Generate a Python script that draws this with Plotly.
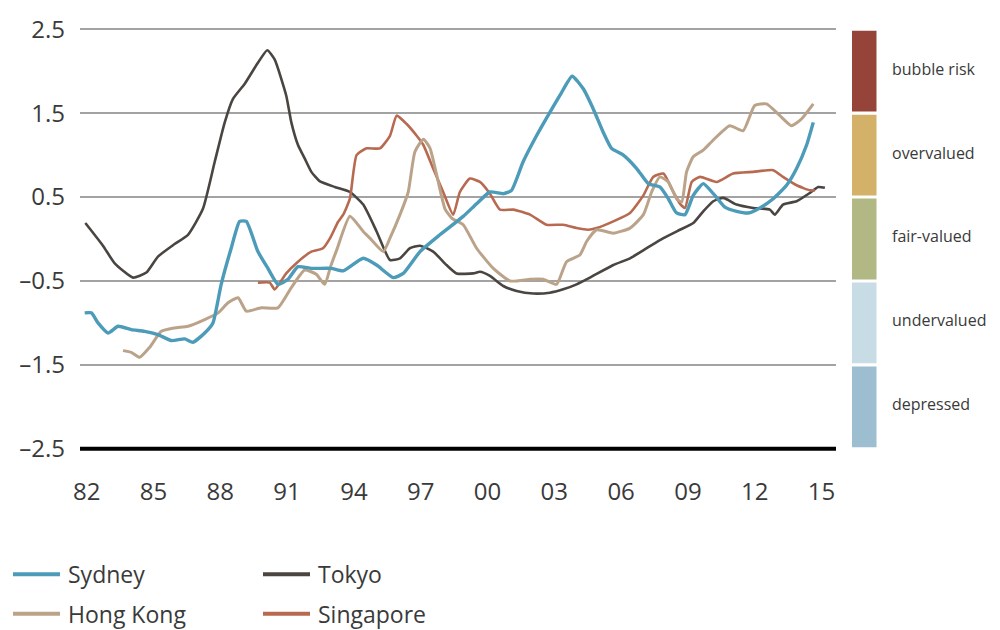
import plotly.graph_objects as go

# ---- series data (year, valuation index) ----
sydney_year = [1981.91, 1982.21, 1982.51, 1982.96, 1983.41, 1984.0, 1984.6, 1985.2, 1985.8, 1986.4,
               1986.77, 1987.3, 1987.67, 1988.04, 1988.49, 1988.87, 1989.17, 1989.69, 1990.14, 1990.59,
               1991.04, 1991.49, 1992.09, 1992.98, 1993.52, 1994.42, 1995.02, 1995.77, 1996.22, 1996.97,
               1997.86, 1998.91, 1999.51, 2000.11, 2000.71, 2001.08, 2001.6, 2002.2, 2002.8, 2003.25,
               2003.8, 2004.3, 2004.75, 2005.2, 2005.57, 2006.1, 2006.7, 2007.22, 2007.74, 2008.12,
               2008.49, 2008.87, 2009.24, 2009.69, 2010.14, 2010.66, 2011.19, 2011.71, 2012.23, 2012.83,
               2013.43, 2013.88, 2014.33, 2014.63]
sydney_val = [-0.88, -0.88, -1.0, -1.12, -1.04, -1.08, -1.10, -1.14, -1.21, -1.19,
              -1.23, -1.12, -1.0, -0.54, -0.11, 0.21, 0.21, -0.15, -0.35, -0.54,
              -0.48, -0.33, -0.35, -0.35, -0.38, -0.23, -0.31, -0.46, -0.41, -0.15,
              0.05, 0.27, 0.42, 0.56, 0.54, 0.58, 0.92, 1.23, 1.51, 1.71,
              1.94, 1.79, 1.55, 1.27, 1.08, 1.0, 0.84, 0.66, 0.62, 0.48,
              0.31, 0.29, 0.52, 0.66, 0.54, 0.38, 0.33, 0.31, 0.37, 0.48,
              0.64, 0.84, 1.12, 1.39]

tokyo_year = [1981.94, 1982.73, 1983.26, 1984.08, 1984.68, 1985.2, 1985.95, 1986.55, 1987.22, 1987.75,
              1988.2, 1988.57, 1989.1, 1989.69, 1990.11, 1990.44, 1990.96, 1991.19, 1991.49, 1991.79,
              1992.09, 1992.46, 1993.14, 1993.82, 1994.42, 1995.02, 1995.62, 1996.07, 1996.52, 1996.97,
              1997.56, 1998.16, 1998.61, 1999.36, 1999.66, 2000.11, 2000.71, 2001.31, 2002.05, 2002.8,
              2003.4, 2004.0, 2004.6, 2005.65, 2006.4, 2007.15, 2007.9, 2008.64, 2009.24, 2009.69,
              2010.14, 2010.59, 2011.19, 2011.93, 2012.68, 2012.9, 2013.27, 2013.88, 2014.48, 2014.85,
              2015.15]
tokyo_val = [0.19, -0.08, -0.29, -0.46, -0.40, -0.21, -0.06, 0.05, 0.36, 0.92,
             1.39, 1.67, 1.85, 2.10, 2.25, 2.14, 1.71, 1.39, 1.12, 0.96,
             0.80, 0.69, 0.62, 0.56, 0.41, 0.09, -0.25, -0.23, -0.11, -0.08,
             -0.15, -0.31, -0.41, -0.41, -0.39, -0.44, -0.56, -0.62, -0.65, -0.64,
             -0.60, -0.54, -0.46, -0.31, -0.23, -0.11, 0.01, 0.11, 0.19, 0.33,
             0.45, 0.49, 0.41, 0.37, 0.35, 0.29, 0.41, 0.45, 0.55, 0.62,
             0.61]

hongkong_year = [1983.63, 1984.0, 1984.38, 1984.83, 1985.35, 1985.95, 1986.55, 1987.3, 1987.9, 1988.35,
                 1988.8, 1989.17, 1989.84, 1990.59, 1991.19, 1991.79, 1992.31, 1992.69, 1992.95, 1993.23,
                 1993.82, 1994.42, 1994.72, 1995.32, 1995.62, 1996.07, 1996.44, 1996.74, 1997.12, 1997.42,
                 1997.72, 1998.09, 1998.39, 1998.91, 1999.51, 2000.26, 2001.01, 2001.91, 2002.5, 2003.1,
                 2003.55, 2004.15, 2004.45, 2004.9, 2005.65, 2006.4, 2007.0, 2007.37, 2007.74, 2008.12,
                 2008.49, 2008.72, 2008.94, 2009.24, 2009.69, 2010.14, 2010.88, 2011.48, 2012.0, 2012.53,
                 2013.13, 2013.65, 2014.1, 2014.63]
hongkong_val = [-1.33, -1.35, -1.41, -1.29, -1.10, -1.06, -1.04, -0.96, -0.88, -0.76,
                -0.70, -0.86, -0.82, -0.82, -0.58, -0.37, -0.42, -0.54, -0.33, -0.13,
                0.27, 0.09, 0.01, -0.15, 0.01, 0.29, 0.56, 1.04, 1.19, 1.08,
                0.76, 0.36, 0.25, 0.17, -0.11, -0.35, -0.50, -0.48, -0.48, -0.54,
                -0.27, -0.19, -0.03, 0.11, 0.07, 0.13, 0.29, 0.56, 0.74, 0.68,
                0.48, 0.44, 0.80, 0.98, 1.06, 1.18, 1.35, 1.29, 1.59, 1.61,
                1.47, 1.35, 1.43, 1.61]

singapore_year = [1989.69, 1990.22, 1990.44, 1990.96, 1991.49, 1992.09, 1992.61, 1992.95, 1993.28, 1993.52,
                  1993.82, 1994.12, 1994.57, 1995.17, 1995.62, 1995.92, 1996.37, 1996.82, 1997.12, 1997.56,
                  1998.01, 1998.46, 1998.76, 1999.21, 1999.66, 2000.11, 2000.56, 2001.16, 2001.91, 2002.65,
                  2003.4, 2004.0, 2004.52, 2004.9, 2005.65, 2006.4, 2007.0, 2007.44, 2007.9, 2008.27,
                  2008.64, 2008.87, 2009.17, 2009.54, 2010.29, 2011.03, 2011.93, 2012.83, 2013.27, 2013.88,
                  2014.48, 2014.7]
singapore_val = [-0.52, -0.52, -0.60, -0.41, -0.27, -0.15, -0.11, 0.02, 0.20, 0.29,
                 0.48, 1.0, 1.08, 1.08, 1.23, 1.47, 1.37, 1.23, 1.12, 0.84,
                 0.56, 0.29, 0.56, 0.72, 0.68, 0.54, 0.35, 0.35, 0.29, 0.17,
                 0.17, 0.13, 0.11, 0.13, 0.21, 0.31, 0.52, 0.74, 0.78, 0.60,
                 0.42, 0.37, 0.68, 0.74, 0.68, 0.78, 0.80, 0.82, 0.74, 0.64,
                 0.58, 0.58]

# ---- axis labels ----
x_tick_years = [1982, 1985, 1988, 1991, 1994, 1997, 2000, 2003, 2006, 2009, 2012, 2015]
x_tick_labels = ["82", "85", "88", "91", "94", "97", "00", "03", "06", "09", "12", "15"]
y_tick_vals = [2.5, 1.5, 0.5, -0.5, -1.5, -2.5]
y_tick_labels = ["2.5", "1.5", "0.5", "\u20130.5", "\u20131.5", "\u20132.5"]

# ---- valuation zones (upper bound, lower bound, label) ----
zone_labels = ["bubble risk", "overvalued", "fair-valued", "undervalued", "depressed"]
zone_upper = [2.5, 1.5, 0.5, -0.5, -1.5]
zone_lower = [1.5, 0.5, -0.5, -1.5, -2.5]
zone_colors = ["#96443a", "#d3b168", "#b1b883", "#c7dce5", "#9dbdd1"]

FONT = "Open Sans"
TEXT = "#3a3a3a"

series = [
    ("Tokyo", tokyo_year, tokyo_val, "#4a4541", 2.6),
    ("Singapore", singapore_year, singapore_val, "#b76a50", 2.6),
    ("Hong Kong", hongkong_year, hongkong_val, "#bba38a", 3.0),
    ("Sydney", sydney_year, sydney_val, "#4b9bb9", 3.4),
]

fig = go.Figure()
for name, xs, ys, color, width in series:
    fig.add_trace(go.Scatter(
        x=xs, y=ys, name=name, mode="lines",
        line=dict(color=color, width=width, shape="spline", smoothing=0.5),
        showlegend=False,
    ))

W, H = 1000, 630
ML, MR, MT, MB = 80, 164, 22, 177
plot_w = W - ML - MR
plot_h = H - MT - MB


def px_to_paper_x(px):
    return (px - ML) / plot_w


def px_to_paper_y(py):
    return (H - MB - py) / plot_h


shapes = []
annotations = []

# heavy baseline at the bottom of the scale
shapes.append(dict(type="line", xref="paper", yref="y", x0=0, x1=1, y0=-2.5, y1=-2.5,
                   line=dict(color="#000000", width=4), layer="above"))

# valuation zone key on the right
gap = 0.018
for lab, hi, lo, col in zip(zone_labels, zone_upper, zone_lower, zone_colors):
    shapes.append(dict(type="rect", xref="paper", yref="y",
                       x0=px_to_paper_x(852), x1=px_to_paper_x(876.5),
                       y0=lo + gap, y1=hi - gap, fillcolor=col, line=dict(width=0)))
    annotations.append(dict(xref="paper", yref="y", x=px_to_paper_x(890), y=(hi + lo) / 2 + 0.03,
                            text=lab, showarrow=False, xanchor="left", yanchor="middle",
                            font=dict(family=FONT, size=16, color=TEXT)))

# series key below the chart
legend_items = [
    ("Sydney", "#4b9bb9", 13, 575),
    ("Tokyo", "#4a4541", 263, 575),
    ("Hong Kong", "#bba38a", 13, 615),
    ("Singapore", "#b76a50", 263, 615),
]
for lab, col, lx, ly in legend_items:
    shapes.append(dict(type="line", xref="paper", yref="paper",
                       x0=px_to_paper_x(lx), x1=px_to_paper_x(lx + 47),
                       y0=px_to_paper_y(ly), y1=px_to_paper_y(ly),
                       line=dict(color=col, width=4)))
    annotations.append(dict(xref="paper", yref="paper", x=px_to_paper_x(lx + 53), y=px_to_paper_y(ly),
                            text=lab, showarrow=False, xanchor="left", yanchor="middle",
                            font=dict(family=FONT, size=23, color=TEXT)))

fig.update_layout(
    width=W, height=H,
    margin=dict(l=ML, r=MR, t=MT, b=MB, pad=0),
    paper_bgcolor="white", plot_bgcolor="white",
    font=dict(family=FONT, color=TEXT),
    shapes=shapes, annotations=annotations,
    showlegend=False,
    xaxis=dict(range=[1981.7, 2015.65], tickvals=x_tick_years, ticktext=x_tick_labels,
               showgrid=False, zeroline=False, showline=False, ticks="",
               tickfont=dict(family=FONT, size=24, color=TEXT), ticklabelstandoff=22),
    yaxis=dict(range=[-2.55, 2.55], tickvals=y_tick_vals, ticktext=y_tick_labels,
               showgrid=True, gridcolor="#a3a3a3", gridwidth=1.6, zeroline=False, showline=False,
               ticks="", tickfont=dict(family=FONT, size=24, color=TEXT), ticklabelstandoff=14),
)

fig.write_html("out.html")
